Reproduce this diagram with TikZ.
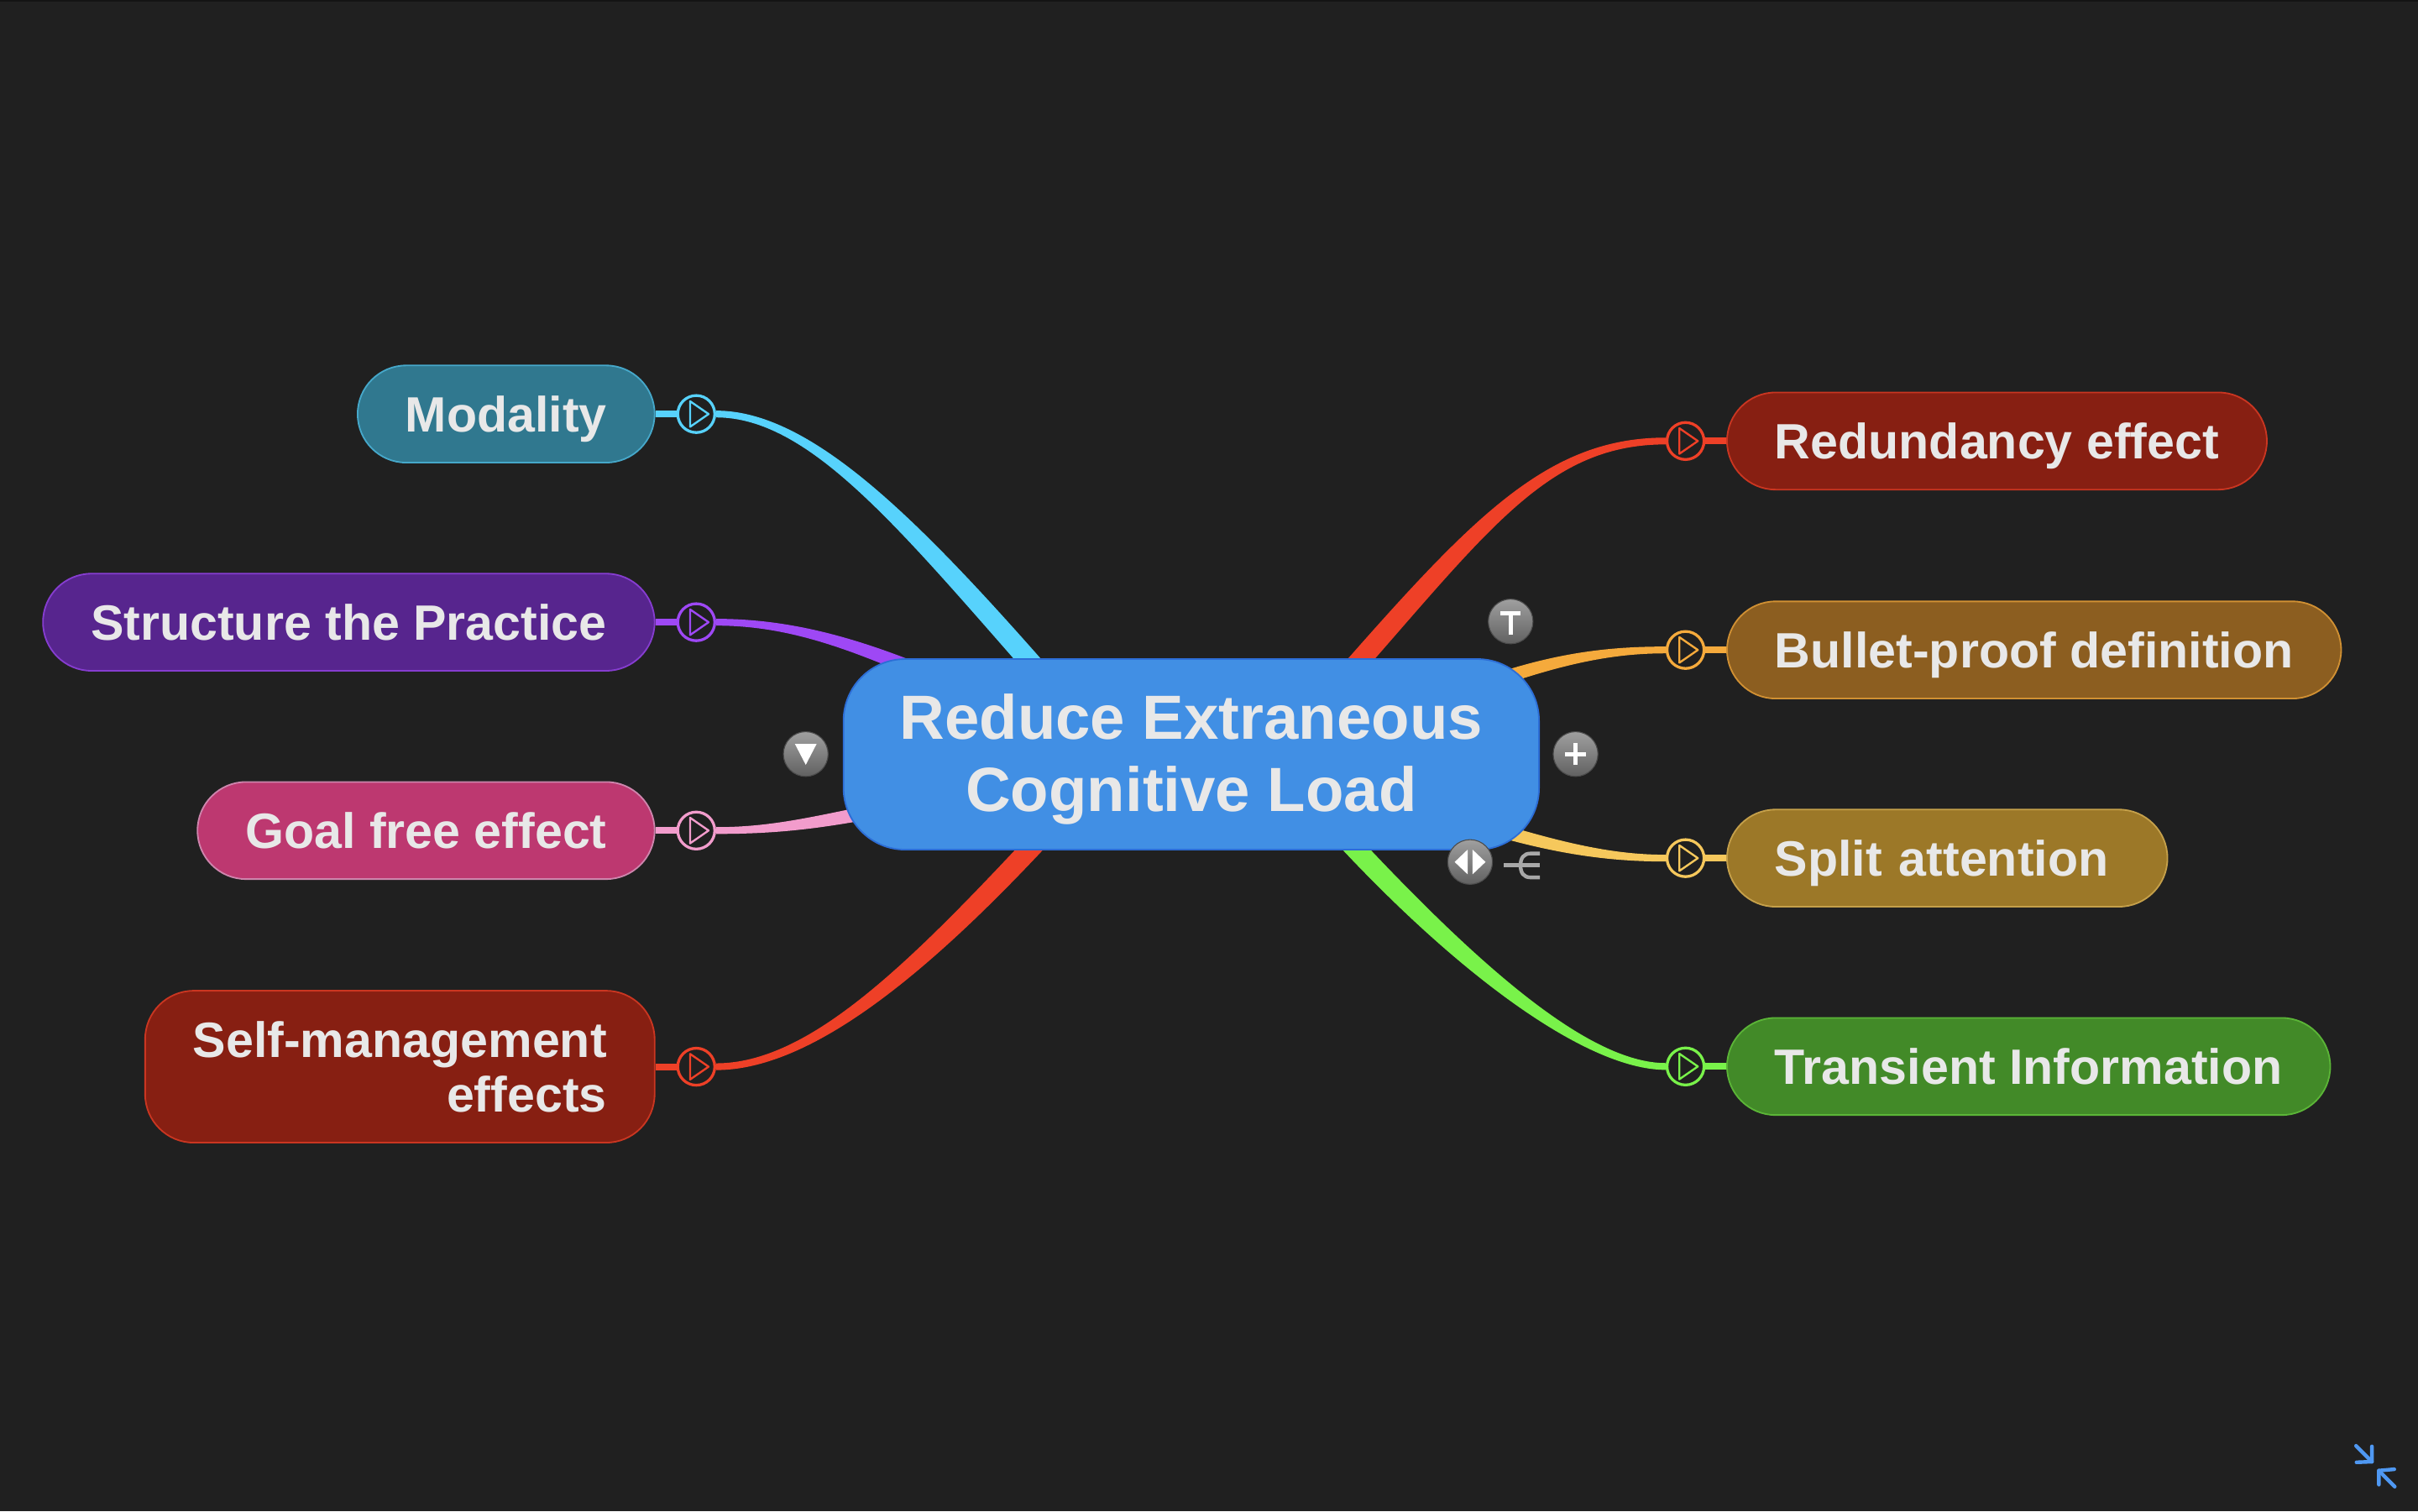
\documentclass[tikz,border=0pt]{standalone}
\usepackage{fontspec}
\setmainfont{Liberation Sans}
\usetikzlibrary{calc}
\pgfdeclarelayer{back}
\pgfdeclarelayer{bg}
\pgfsetlayers{back,bg,main}
\definecolor{bgc}{HTML}{202020}
\definecolor{txt}{HTML}{E8E8E8}
\definecolor{cfill}{HTML}{418FE4}
\definecolor{cline}{HTML}{2C6DD6}
\definecolor{bcyan}{HTML}{57D2FC}
\definecolor{bpurple}{HTML}{9E48F5}
\definecolor{bpink}{HTML}{F29CCC}
\definecolor{bred}{HTML}{EE4027}
\definecolor{borange}{HTML}{F5AA3C}
\definecolor{byellow}{HTML}{F6C85C}
\definecolor{bgreen}{HTML}{79F24A}
\definecolor{fcyan}{HTML}{30788F}
\definecolor{fpurple}{HTML}{57258E}
\definecolor{fpink}{HTML}{BD3870}
\definecolor{fred}{HTML}{871F12}
\definecolor{forange}{HTML}{8C5E20}
\definecolor{fyellow}{HTML}{9C7828}
\definecolor{fgreen}{HTML}{428A28}
\definecolor{iconblue}{HTML}{4F98F2}
\definecolor{glyph}{HTML}{A8A8A8}
\newcommand\leaffont{\bfseries\fontsize{32.2}{35.5}\selectfont}
\newcommand\rootfont{\bfseries\fontsize{40.5}{46.6}\selectfont}
\newcommand\branch[7]{%
  \coordinate (bP0) at #2;
  \coordinate (bC1) at #3;
  \coordinate (bC2) at #4;
  \coordinate (bP3) at #5;
  \fill[#1] ($(bP0)!#6!90:(bC1)$) .. controls ($(bC1)!#6!-90:(bP0)$) and ($(bC2)!#7!90:(bP3)$) .. ($(bP3)!#7!-90:(bC2)$)
    -- ($(bP3)!#7!90:(bC2)$) .. controls ($(bC2)!#7!-90:(bP3)$) and ($(bC1)!#6!90:(bP0)$) .. ($(bP0)!#6!-90:(bC1)$) -- cycle;
}
\newcommand\knob[3]{%
  \node[knobst, draw=#3] (#1) at #2 {};
  \draw[#3, line width=1.3pt, line join=round] ($(#1)+(-4,-8.3)$) -- ($(#1)+(8,0)$) -- ($(#1)+(-4,8.3)$) -- cycle;
}
\begin{document}
\begin{tikzpicture}[x=1pt,y=-1pt,
  leafbase/.style={rectangle, rounded corners=31.5pt, minimum height=63pt, inner xsep=31pt, inner ysep=0pt, line width=1pt, text=txt, font=\leaffont},
  leaf/.style={leafbase, text height=23.2pt, text depth=0pt},
  knobst/.style={circle, minimum size=24pt, inner sep=0pt, line width=1.8pt, fill=bgc},
  icon/.style={circle, minimum size=29pt, inner sep=0pt, top color=gray!75, bottom color=black!62, draw=black!70, line width=0.6pt},
  stub/.style={line width=4.4pt}]
\useasboundingbox (0,0) rectangle (1568,980);
\begin{pgfonlayer}{back}
\fill[bgc] (0,0) rectangle (1568,980);
\fill[black!92] (0,0) rectangle (1568,1.3);
\end{pgfonlayer}

% central node
\node[rectangle, rounded corners=40pt, minimum width=451pt, minimum height=123.6pt, inner sep=0pt,
      fill=cfill, draw=cline, line width=1pt, text=txt, font=\rootfont, align=center]
      (root) at (772.5,489.2) {\rule{0pt}{36pt}Reduce Extraneous\\Cognitive Load};

% leaves
\node[leaf, fill=fcyan, draw=bcyan!80!black, anchor=east] (modality) at (425,268.5) {Modality};
\node[leaf, fill=fpurple, draw=bpurple!85!black, anchor=east] (structure) at (425,403.5) {Structure the Practice};
\node[leaf, fill=fpink, draw=bpink!85!black, anchor=east] (goal) at (425,538.6) {Goal free effect};
\node[leafbase, fill=fred, draw=bred!85!black, anchor=east, align=right, minimum height=98.5pt] (self) at (425,691.75) {Self-management\\effects};
\node[leaf, fill=fred, draw=bred!85!black, anchor=west] (redund) at (1119.4,286) {Redundancy effect};
\node[leaf, fill=forange, draw=borange!85!black, anchor=west] (bullet) at (1119.4,421.5) {Bullet-proof definition};
\node[leaf, fill=fyellow, draw=byellow!80!black, anchor=west, minimum width=285.6pt, text width=223.6pt] (split) at (1119.4,556.5) {Split attention};
\node[leaf, fill=fgreen, draw=bgreen!75!black, anchor=west] (trans) at (1119.4,691.6) {Transient Information};

% knobs
\knob{km}{(451.5,268.5)}{bcyan}
\knob{kp}{(451.5,403.5)}{bpurple}
\knob{kg}{(451.5,538.6)}{bpink}
\knob{ks}{(451.5,691.75)}{bred}
\knob{kr}{(1093,286)}{bred}
\knob{kb}{(1093,421.5)}{borange}
\knob{kt}{(1093,556.5)}{byellow}
\knob{kn}{(1093,691.6)}{bgreen}

% branch end points inside the root node
\coordinate (eMod) at (673.9,436);
\coordinate (eStr) at (612,442);
\coordinate (eGoal) at (575,524.5);
\coordinate (eSelf) at (675.2,542.7);
\coordinate (eRed) at (875.1,436);
\coordinate (eBul) at (962,444);
\coordinate (eSpl) at (962,535.5);
\coordinate (eTra) at (871.8,542.7);

\begin{pgfonlayer}{bg}
\draw[bcyan, stub] (modality.east) -- (km.west);
\draw[bpurple, stub] (structure.east) -- (kp.west);
\draw[bpink, stub] (goal.east) -- (kg.west);
\draw[bred, stub] (self.east) -- (ks.west);
\draw[bred, stub] (redund.west) -- (kr.east);
\draw[borange, stub] (bullet.west) -- (kb.east);
\draw[byellow, stub] (split.west) -- (kt.east);
\draw[bgreen, stub] (trans.west) -- (kn.east);

\branch{bcyan}{(km.east)}{($(km.east)+(60,0)$)}{($(eMod)+(-87,-99)$)}{(eMod)}{2.2pt}{6.6pt}
\branch{bpurple}{(kp.east)}{($(kp.east)+(52,0)$)}{(560,420)}{(eStr)}{2.2pt}{4.8pt}
\branch{bpink}{(kg.east)}{($(kg.east)+(37,0)$)}{(530,533.5)}{(eGoal)}{2.2pt}{4.5pt}
\branch{bred}{(ks.east)}{($(ks.east)+(60,0)$)}{($(eSelf)+(-81.6,87.6)$)}{(eSelf)}{2.2pt}{6.6pt}
\branch{bred}{(kr.west)}{($(kr.west)+(-75,0)$)}{($(eRed)+(87,-99)$)}{(eRed)}{2.2pt}{6.6pt}
\branch{borange}{(kb.west)}{($(kb.west)+(-36,0)$)}{(1010,427)}{(eBul)}{2.2pt}{4.3pt}
\branch{byellow}{(kt.west)}{($(kt.west)+(-36,0)$)}{(1010,550)}{(eSpl)}{2.2pt}{4.3pt}
\branch{bgreen}{(kn.west)}{($(kn.west)+(-50,0)$)}{($(eTra)+(81.6,87.6)$)}{(eTra)}{2.2pt}{6.6pt}
\end{pgfonlayer}

% grey control icons
\node[icon] (idown) at (522.5,489) {};
\fill[white] ($(idown)+(-7,-6.5)$) -- ($(idown)+(7,-6.5)$) -- ($(idown)+(0,7)$) -- cycle;
\node[icon] (itext) at (979.6,403) {};
\draw[white, line width=2.8pt] ($(itext)+(-6.5,-5.5)$) -- ($(itext)+(6.5,-5.5)$);
\draw[white, line width=2.8pt] ($(itext)+(0,-5.5)$) -- ($(itext)+(0,8.5)$);
\node[icon] (iplus) at (1021.7,489) {};
\draw[white, line width=2.8pt] ($(iplus)+(-7,0)$) -- ($(iplus)+(7,0)$);
\draw[white, line width=2.8pt] ($(iplus)+(0,-7)$) -- ($(iplus)+(0,7)$);
\node[icon] (iswap) at (953.3,559) {};
\fill[white] ($(iswap)+(-10,0)$) -- ($(iswap)+(-1.6,-8)$) -- ($(iswap)+(-1.6,8)$) -- cycle;
\fill[white] ($(iswap)+(10,0)$) -- ($(iswap)+(1.6,-8)$) -- ($(iswap)+(1.6,8)$) -- cycle;
\draw[glyph, line width=2.4pt] (975.3,561) -- (998.5,561);
\draw[glyph, line width=2.4pt] (998.5,553.5) -- (992.5,553.5) .. controls (988,553.5) and (986,556.5) .. (986,561.2) .. controls (986,566) and (988,569) .. (992.5,569) -- (998.5,569);

% collapse icon
\begin{scope}[iconblue, line width=2.4pt, line cap=round, line join=round]
\draw (1527.8,937.6) -- (1538.1,947.9);
\draw (1538.1,938) -- (1538.1,947.9) -- (1528.1,948.3);
\draw (1552.9,964.1) -- (1542.6,953.7);
\draw (1542.6,962.8) -- (1542.6,953.7) -- (1552.6,952.8);
\end{scope}
\end{tikzpicture}
\end{document}
